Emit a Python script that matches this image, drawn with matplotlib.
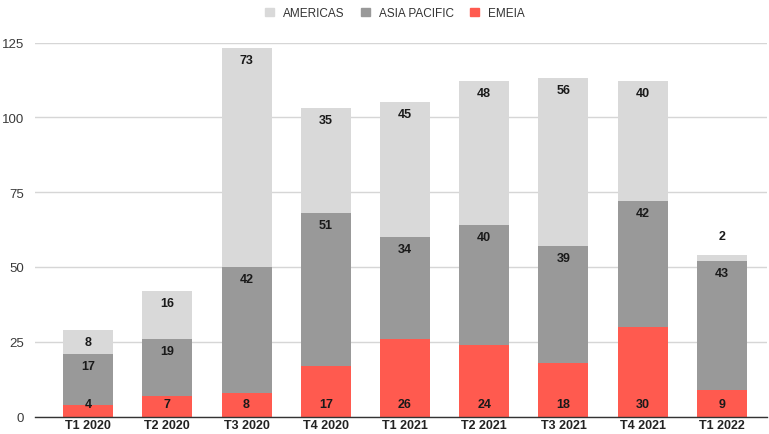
import matplotlib
matplotlib.use("Agg")
import matplotlib.pyplot as plt
from matplotlib.patches import Patch
import numpy as np

quarters = ["T1 2020", "T2 2020", "T3 2020", "T4 2020", "T1 2021",
            "T2 2021", "T3 2021", "T4 2021", "T1 2022"]
emeia = [4, 7, 8, 17, 26, 24, 18, 30, 9]
asia_pacific = [17, 19, 42, 51, 34, 40, 39, 42, 43]
americas = [8, 16, 73, 35, 45, 48, 56, 40, 2]
y_ticks = [0, 25, 50, 75, 100, 125]

c_americas = "#d9d9d9"
c_asia = "#999999"
c_emeia = "#ff5a4f"

plt.rcParams["font.family"] = ["Liberation Sans", "DejaVu Sans"]

fig = plt.figure(figsize=(7.69, 4.35), dpi=100)
ax = fig.add_axes([35 / 769, 1 - 417.5 / 435, (767 - 35) / 769, (417.5 - 43.5) / 435])

x = np.arange(len(quarters))
w = 50 / 79.25

e = np.array(emeia, dtype=float)
a = np.array(asia_pacific, dtype=float)
m = np.array(americas, dtype=float)

ax.bar(x, e, w, color=c_emeia, zorder=3)
ax.bar(x, a, w, bottom=e, color=c_asia, zorder=3)
ax.bar(x, m, w, bottom=e + a, color=c_americas, zorder=3)

ax.set_xlim(-0.669, len(quarters) - 1 + 0.568)
ax.set_ylim(0, 125)
ax.set_yticks(y_ticks)
ax.set_xticks(x)
ax.set_xticklabels(quarters, fontweight="bold", fontsize=9, color="#222222")
ax.tick_params(axis="y", length=0, labelsize=9.5, labelcolor="#3a3a3a", pad=8)
ax.tick_params(axis="x", length=0, pad=1.5)

ax.grid(axis="y", color="#d6d6d6", linewidth=1, zorder=0)
for s in ["top", "right", "left"]:
    ax.spines[s].set_visible(False)
ax.spines["bottom"].set_color("#333333")
ax.spines["bottom"].set_linewidth(1)
ax.spines["bottom"].set_zorder(4)

lab = dict(ha="center", va="center", fontsize=9, fontweight="bold",
           color="#1a1a1a", zorder=5, textcoords="offset points")
pt = 0.72  # points per pixel at 100 dpi

for i in range(len(quarters)):
    # EMEIA value near the base of the bar
    ax.annotate(str(emeia[i]), (x[i], 0), xytext=(0, 12 * pt), **lab)
    # Asia Pacific value just under its top edge
    ax.annotate(str(asia_pacific[i]), (x[i], e[i] + a[i]), xytext=(0, -12 * pt), **lab)
    # Americas value under the top, or above the bar when the segment is thin
    top = e[i] + a[i] + m[i]
    if m[i] < 5:
        ax.annotate(str(americas[i]), (x[i], top), xytext=(0, 19 * pt), **lab)
    else:
        ax.annotate(str(americas[i]), (x[i], top), xytext=(0, -12 * pt), **lab)

handles = [Patch(color=c_americas, label="AMERICAS"),
           Patch(color=c_asia, label="ASIA PACIFIC"),
           Patch(color=c_emeia, label="EMEIA")]
fig.legend(handles=handles, loc="center", bbox_to_anchor=(395 / 769, 1 - 14 / 435),
           ncol=3, frameon=False, fontsize=8.5, handlelength=0.75, handleheight=0.75,
           columnspacing=1.4, handletextpad=0.75, labelcolor="#333333")

fig.savefig("out.png", dpi=100)
